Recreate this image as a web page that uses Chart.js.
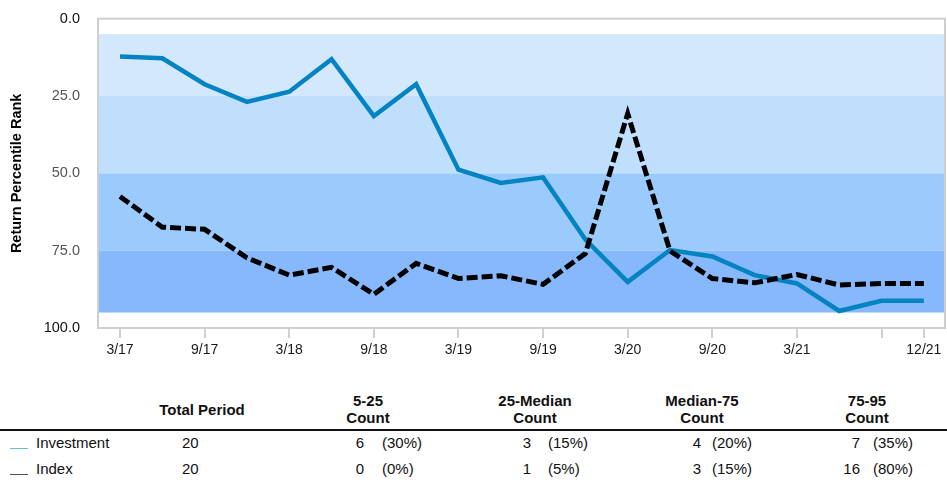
<!DOCTYPE html>
<html>
<head>
<meta charset="utf-8">
<script src="https://cdn.jsdelivr.net/npm/chart.js@4"></script>
<style>
  body { margin: 0; background: #fff; font-family: "Liberation Sans", Arial, sans-serif; }
  #wrap { position: relative; width: 947px; height: 482px; }
  #rank-chart { position: absolute; left: 0; top: 0; }
  .t { position: absolute; font-size: 15px; color: #111; white-space: nowrap; }
  .h { position: absolute; font-size: 15px; font-weight: bold; color: #111; text-align: center; line-height: 17px; }
  .r { text-align: right; }
  .sw { position: absolute; width: 18px; height: 0; border-top: 1.5px solid; }
</style>
</head>
<body>
<div id="wrap">
  <canvas id="rank-chart" width="947" height="370"></canvas>
  <div id="table"></div>
</div>
<script>
// quarterly data, 3/17 .. 12/21
const quarters = ['3/17','6/17','9/17','12/17','3/18','6/18','9/18','12/18','3/19','6/19',
                  '9/19','12/19','3/20','6/20','9/20','12/20','3/21','6/21','9/21','12/21'];
const investment = [12.2, 12.8, 21.2, 26.9, 23.6, 13.1, 31.5, 21.2, 48.8, 53.1,
                    51.3, 71.4, 85.1, 74.8, 76.9, 82.9, 85.6, 94.5, 91.2, 91.2];
const indexRank = [57.5, 67.4, 68.1, 77.3, 82.9, 80.4, 89.1, 79.1, 84.0, 83.1,
                   85.9, 75.9, 30.7, 75.1, 84.0, 85.4, 82.7, 86.1, 85.6, 85.6];
const tickIdx = [0, 2, 4, 6, 8, 10, 12, 14, 16, 18, 19];
const hiddenTicks = [18];

// percentile bands
const bandEdges = [5, 25, 50, 75, 95];
const bandColors = ['#d4e8fd', '#c0dffd', '#9bcbfc', '#86b8fb'];

// table below the chart
const colHeads = [['Total Period'], ['5-25', 'Count'], ['25-Median', 'Count'], ['Median-75', 'Count'], ['75-95', 'Count']];
const rowNames = ['Investment', 'Index'];
const rowColors = ['#6fb8e6', '#555555'];
const totals = [20, 20];
const counts = [[6, 3, 4, 7], [0, 1, 3, 16]];
const pcts = [['30%', '15%', '20%', '35%'], ['0%', '5%', '15%', '80%']];

const bandsPlugin = {
    id: 'bands',
    beforeDatasetsDraw(chart) {
        const {ctx, chartArea, scales} = chart;
        ctx.save();
        for (let i = 0; i < bandColors.length; i++) {
            const y1 = scales.y.getPixelForValue(bandEdges[i]);
            const y2 = scales.y.getPixelForValue(bandEdges[i + 1]);
            ctx.fillStyle = bandColors[i];
            ctx.fillRect(chartArea.left + 1, y1, chartArea.right - chartArea.left - 2, y2 - y1);
        }
        ctx.restore();
    },
    afterDatasetsDraw(chart) {
        const {ctx, chartArea} = chart;
        ctx.save();
        ctx.strokeStyle = '#cfcfcf';
        ctx.lineWidth = 2;
        ctx.strokeRect(chartArea.left, chartArea.top, chartArea.right - chartArea.left, chartArea.bottom - chartArea.top);
        ctx.restore();
    }
};

function setupChart() {
    const ctx = document.getElementById('rank-chart').getContext('2d');
    return new Chart(ctx, {
        type: 'line',
        data: {
            datasets: [{
                label: 'Investment',
                data: investment.map((v, i) => ({x: i, y: v})),
                borderColor: '#0383c2',
                borderWidth: 4.5,
                pointRadius: 0,
                tension: 0,
                order: 2
            }, {
                label: 'Index',
                data: indexRank.map((v, i) => ({x: i, y: v})),
                borderColor: '#000000',
                borderWidth: 5,
                borderDash: [11, 4],
                pointRadius: 0,
                tension: 0,
                order: 1
            }]
        },
        options: {
            responsive: false,
            animation: false,
            layout: { padding: { top: 17, right: 2, left: 0, bottom: 0 } },
            plugins: { legend: { display: false }, tooltip: { enabled: false } },
            scales: {
                x: {
                    type: 'linear',
                    min: -0.52,
                    max: 19.5,
                    afterBuildTicks: (scale) => { scale.ticks = tickIdx.map(v => ({value: v})); },
                    afterFit: (scale) => { scale.height = 370 - 328; },
                    grid: { drawOnChartArea: false, drawTicks: true, tickLength: 10, color: '#d0d0d0', lineWidth: 2 },
                    border: { display: false },
                    ticks: {
                        autoSkip: false,
                        maxRotation: 0,
                        padding: 4,
                        color: '#1a1a1a',
                        font: { family: 'Liberation Sans', size: 14 },
                        callback: (v) => hiddenTicks.includes(v) ? '' : quarters[v]
                    }
                },
                y: {
                    reverse: true,
                    min: 0,
                    max: 100,
                    afterBuildTicks: (scale) => { scale.ticks = [0, 25, 50, 75, 100].map(v => ({value: v})); },
                    afterFit: (scale) => { scale.width = 98; },
                    grid: { display: false },
                    border: { display: false },
                    title: {
                        display: true,
                        text: 'Return Percentile Rank',
                        color: '#000',
                        font: { family: 'Liberation Sans', size: 14.5, weight: 'bold' },
                        padding: { top: 8, bottom: 4 }
                    },
                    ticks: {
                        padding: 10,
                        color: (c) => (c.tick.value === 0 || c.tick.value === 100) ? '#111' : '#555',
                        font: { family: 'Liberation Sans', size: 14.5 },
                        callback: (v) => v.toFixed(1)
                    }
                }
            }
        },
        plugins: [bandsPlugin]
    });
}

function buildTable() {
    const t = document.getElementById('table');
    let html = '';
    const headCenters = [202, 368, 535, 702, 867];
    colHeads.forEach((lines, i) => {
        const top = lines.length === 1 ? 401 : 392;
        html += `<div class="h" style="left:${headCenters[i] - 70}px;width:140px;top:${top}px">${lines.join('<br>')}</div>`;
    });
    html += '<div style="position:absolute;left:0;top:429px;width:947px;height:2px;background:#111"></div>';
    const rowTops = [434, 460];
    const numRight = [364, 531, 701, 860];
    const pctLeft = [382, 548, 712, 873];
    rowNames.forEach((name, r) => {
        const top = rowTops[r];
        html += `<div class="sw" style="left:10px;top:${top + 14}px;border-color:${rowColors[r]}"></div>`;
        html += `<div class="t" style="left:36px;top:${top}px">${name}</div>`;
        html += `<div class="t" style="left:182px;top:${top}px">${totals[r]}</div>`;
        counts[r].forEach((c, k) => {
            html += `<div class="t r" style="left:${numRight[k] - 40}px;width:40px;top:${top}px">${c}</div>`;
            html += `<div class="t" style="left:${pctLeft[k]}px;top:${top}px">(${pcts[r][k]})</div>`;
        });
    });
    t.innerHTML = html;
}

const rankChart = setupChart();
buildTable();
</script>
</body>
</html>
